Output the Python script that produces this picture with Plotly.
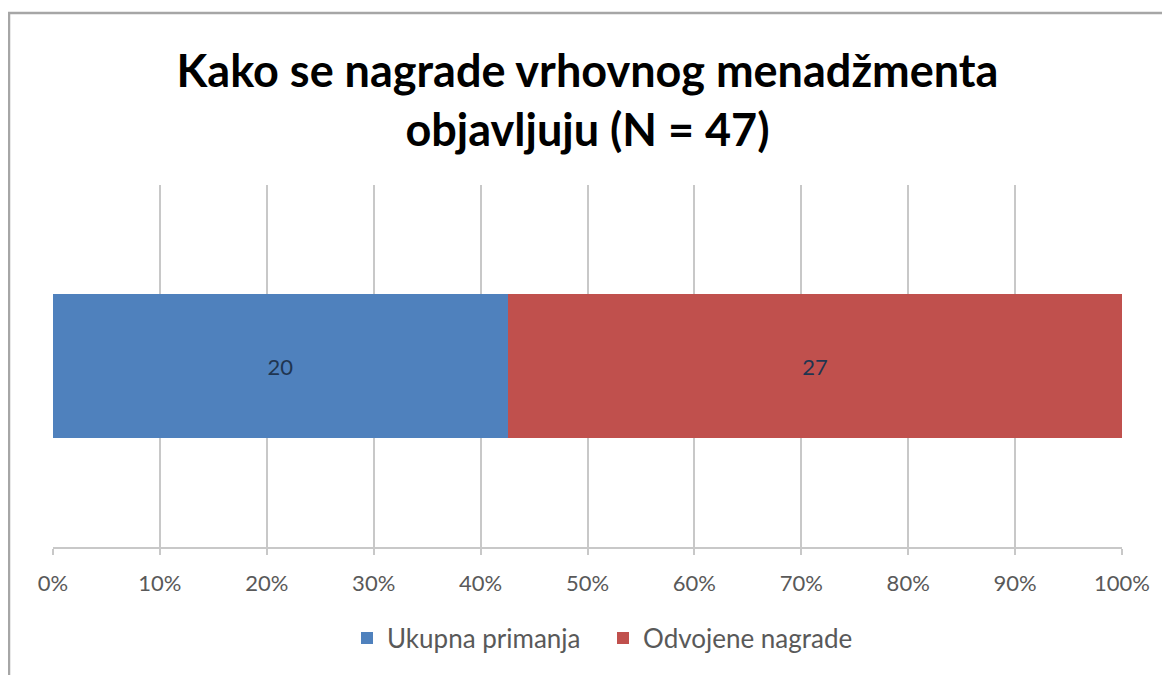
import plotly.graph_objects as go

categories = [""]
series_names = ["Ukupna primanja", "Odvojene nagrade"]
series_values = [[20], [27]]
series_colors = ["#4F81BD", "#C0504D"]
tick_vals = [0, 10, 20, 30, 40, 50, 60, 70, 80, 90, 100]
tick_text = ["0%", "10%", "20%", "30%", "40%", "50%", "60%", "70%", "80%", "90%", "100%"]
title_text = "Kako se nagrade vrhovnog menadžmenta<br>objavljuju (N = 47)"

W, H = 1162, 667
L, R, T, B = 45, 48, 177, 128
PW, PH = W - L - R, H - T - B

fig = go.Figure()
for name, vals, col in zip(series_names, series_values, series_colors):
    fig.add_trace(go.Bar(
        y=categories, x=vals, name=name, orientation="h",
        marker=dict(color=col, line=dict(width=0)),
        text=[str(v) for v in vals], textposition="inside",
        insidetextanchor="middle",
        textfont=dict(family="Lato, Carlito, sans-serif", size=22, color="#1F3550"),
    ))

fig.update_layout(
    barmode="stack", barnorm="percent", bargap=0.6,
    width=W, height=H,
    margin=dict(l=L, r=R, t=T, b=B),
    paper_bgcolor="white", plot_bgcolor="white",
    title=dict(text=title_text, x=0.5, xanchor="center", xref="paper",
               y=1 - 79 / H, yanchor="middle", yref="container",
               font=dict(family="Lato, Carlito, sans-serif", size=45, color="#000000", weight="bold")),
    xaxis=dict(range=[0, 100], tickvals=tick_vals, ticktext=tick_text,
               showgrid=True, gridcolor="#C8C8C8", gridwidth=1.5,
               showline=True, linecolor="#C8C8C8", linewidth=1.5,
               ticks="outside", ticklen=6, tickcolor="#C8C8C8", tickwidth=1.5,
               ticklabelstandoff=10,
               tickfont=dict(family="Lato, Carlito, sans-serif", size=22, color="#595959"),
               zeroline=False, fixedrange=True),
    yaxis=dict(showgrid=False, showticklabels=False, showline=False, zeroline=False),
    legend=dict(orientation="h", x=(339 - L) / PW, xanchor="left", y=(539 - 630) / PH, yanchor="middle",
                font=dict(family="Lato, Carlito, sans-serif", size=26, color="#595959"),
                itemwidth=30, traceorder="normal", entrywidth=211, entrywidthmode="pixels"),
    shapes=[dict(type="rect", xref="paper", yref="paper",
                 x0=(1 - L) / PW, x1=(W + 20 - L) / PW,
                 y0=(539 - H - 20) / PH, y1=(539 - 5) / PH,
                 line=dict(color="#A6A6A6", width=2.5), fillcolor="rgba(0,0,0,0)")],
)

fig.write_html("out.html")
